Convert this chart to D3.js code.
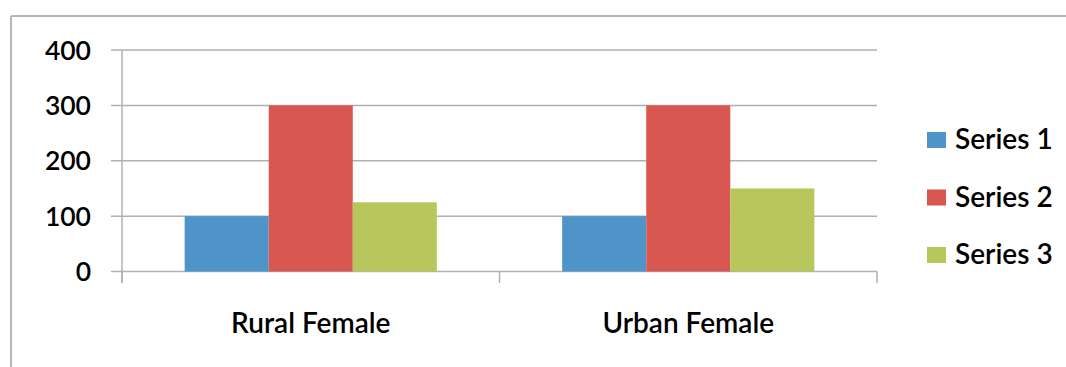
<!DOCTYPE html>
<html><head><meta charset="utf-8">
<script src="https://cdn.jsdelivr.net/npm/d3@7"></script>
<style>
body{margin:0;background:#fff;}
svg{display:block;}
text{font-family:Lato,"Open Sans",sans-serif;fill:#000;}
</style></head>
<body><svg id="c" width="1066" height="367"></svg>
<script>
const categories = ["Rural Female", "Urban Female"];
const seriesNames = ["Series 1", "Series 2", "Series 3"];
const series1 = [100, 100];
const series2 = [300, 300];
const series3 = [125, 150];
const yTicks = [0, 100, 200, 300, 400];
const colors = ["#4f94c8", "#d85751", "#b8c75c"];

(function(){
const allSeries = [series1, series2, series3];
const svg = d3.select("#c");

svg.append("line").attr("x1",11).attr("x2",1066).attr("y1",16).attr("y2",16).attr("stroke","#b5b5b5").attr("stroke-width",2);
svg.append("line").attr("x1",11).attr("x2",11).attr("y1",16).attr("y2",367).attr("stroke","#b5b5b5").attr("stroke-width",2);

const pL = 122, pR = 877, pT = 50, pB = 271.5;
const y = d3.scaleLinear().domain([0, 400]).range([pB, pT]);
const x0 = d3.scaleBand().domain(categories).range([pL, pR]).padding(0);
const gap = x0.bandwidth() * 0.166;
const x1 = d3.scaleBand().domain(seriesNames).range([gap, x0.bandwidth() - gap]).padding(0);

svg.append("g").selectAll("line").data(yTicks).join("line")
  .attr("x1", 111).attr("x2", pR).attr("y1", d => y(d)).attr("y2", d => y(d))
  .attr("stroke", "#b0b0b0").attr("stroke-width", 1.5);

svg.append("line").attr("x1", pL).attr("x2", pL).attr("y1", pT).attr("y2", 283)
  .attr("stroke", "#b0b0b0").attr("stroke-width", 1.5);

const catEdges = [pL, ...categories.map(c => x0(c) + x0.bandwidth())];
svg.append("g").selectAll("line").data(catEdges).join("line")
  .attr("x1", d => d).attr("x2", d => d).attr("y1", pB).attr("y2", 283)
  .attr("stroke", "#b0b0b0").attr("stroke-width", 1.5);

const groups = svg.append("g").selectAll("g").data(categories).join("g")
  .attr("transform", c => `translate(${x0(c)},0)`);
groups.selectAll("rect").data((c, i) => seriesNames.map((s, j) => ({s, j, v: allSeries[j][i]})))
  .join("rect")
  .attr("x", d => x1(d.s)).attr("width", x1.bandwidth())
  .attr("y", d => y(d.v)).attr("height", d => y(0) - y(d.v))
  .attr("fill", d => colors[d.j]);

svg.append("g").selectAll("text").data(yTicks).join("text")
  .attr("x", 91).attr("y", d => y(d)).attr("dy", "0.36em")
  .attr("text-anchor", "end").attr("font-size", 26.5).attr("font-weight", 600)
  .text(d => d);

svg.append("g").selectAll("text").data(categories).join("text")
  .attr("x", c => x0(c) + x0.bandwidth() / 2).attr("y", 323).attr("dy", "0.36em")
  .attr("text-anchor", "middle").attr("font-size", 28).attr("font-weight", 600)
  .text(c => c);

const leg = svg.append("g").selectAll("g").data(seriesNames).join("g")
  .attr("transform", (s, i) => `translate(927,${139 + i * 57.5})`);
leg.append("rect").attr("x", 0).attr("y", -7).attr("width", 19).attr("height", 16)
  .attr("fill", (s, i) => colors[i]);
leg.append("text").attr("x", 28).attr("y", 0).attr("dy", "0.36em")
  .attr("font-size", 28).attr("font-weight", 600).text(s => s);
})();
</script></body></html>
